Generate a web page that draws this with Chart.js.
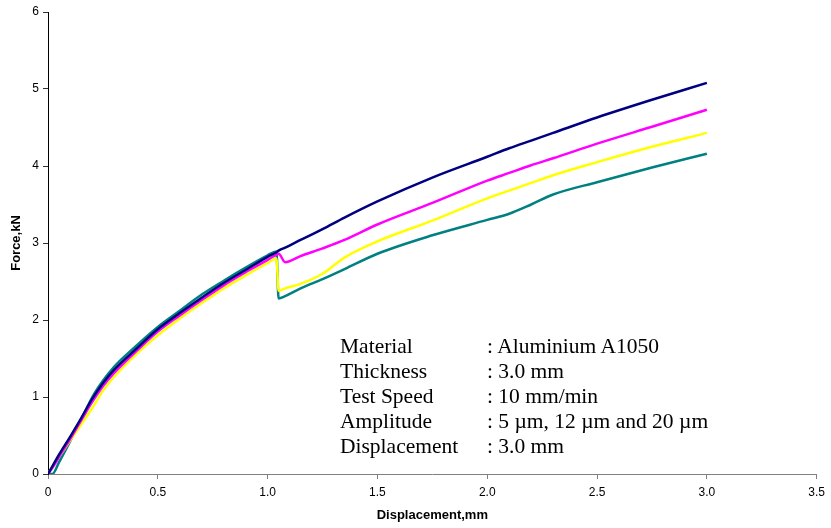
<!DOCTYPE html>
<html>
<head>
<meta charset="utf-8">
<title>Force vs displacement</title>
<script src="https://cdn.jsdelivr.net/npm/chart.js@4/dist/chart.umd.min.js"></script>
<style>
  html, body { margin: 0; padding: 0; background: #fff; }
  #wrap { position: relative; width: 831px; height: 528px; }
  #note {
    position: absolute; left: 340px; top: 334px;
    font-family: "Liberation Serif", "Times New Roman", serif;
    font-size: 21.5px; line-height: 25px; color: #000;
  }
  #note .row { white-space: nowrap; }
  #note .k { display: inline-block; width: 147px; }
</style>
</head>
<body>
<div id="wrap">
  <canvas id="forceChart" width="831" height="528"></canvas>
  <div id="note">
    <div class="row"><span class="k">Material</span>: Aluminium A1050</div>
    <div class="row"><span class="k">Thickness</span>: 3.0 mm</div>
    <div class="row"><span class="k">Test Speed</span>: 10 mm/min</div>
    <div class="row"><span class="k">Amplitude</span>: 5 µm, 12 µm and 20 µm</div>
    <div class="row"><span class="k">Displacement</span>: 3.0 mm</div>
  </div>
</div>
<script>
// displacement (mm), shared by all curves
const displacement = [0, 0.02, 0.05, 0.1, 0.15, 0.2, 0.25, 0.3, 0.4, 0.5, 0.6, 0.7, 0.8, 0.9, 1.0,
  1.04, 1.05, 1.08, 1.15, 1.25, 1.35, 1.5, 1.75, 2.0, 2.1, 2.2, 2.3, 2.5, 2.75, 3.0];

// force (kN) per curve
const forceNavy    = [0, 0.10, 0.25, 0.48, 0.72, 0.97, 1.18, 1.35, 1.62, 1.88, 2.09, 2.29, 2.48, 2.65, 2.82,
  2.88, 2.90, 2.94, 3.04, 3.18, 3.33, 3.54, 3.85, 4.12, 4.23, 4.33, 4.43, 4.63, 4.86, 5.08];
const forceMagenta = [0, 0.08, 0.22, 0.45, 0.69, 0.93, 1.14, 1.31, 1.59, 1.85, 2.06, 2.26, 2.45, 2.62, 2.78,
  2.85, 2.86, 2.75, 2.83, 2.93, 3.04, 3.24, 3.52, 3.81, 3.91, 4.01, 4.10, 4.29, 4.51, 4.73];
const forceYellow  = [0, 0.10, 0.22, 0.43, 0.64, 0.85, 1.08, 1.26, 1.55, 1.80, 2.02, 2.22, 2.41, 2.58, 2.74,
  2.80, 2.38, 2.41, 2.47, 2.60, 2.81, 3.02, 3.29, 3.58, 3.68, 3.78, 3.88, 4.05, 4.25, 4.43];
const forceTeal    = [0, 0.00, 0.15, 0.42, 0.70, 0.99, 1.21, 1.39, 1.66, 1.91, 2.12, 2.33, 2.51, 2.68, 2.84,
  2.89, 2.28, 2.31, 2.41, 2.53, 2.66, 2.86, 3.10, 3.30, 3.38, 3.50, 3.63, 3.79, 3.98, 4.16];

const xTicks = { min: 0, max: 3.5, step: 0.5 };
const yTicks = { min: 0, max: 6, step: 1 };

function toPoints(ys) {
  return displacement.map((x, i) => ({ x, y: ys[i] }));
}

function line(ys, color) {
  return {
    data: toPoints(ys),
    borderColor: color,
    backgroundColor: color,
    borderWidth: 2.5,
    pointRadius: 0,
    showLine: true,
    cubicInterpolationMode: 'monotone',
    fill: false
  };
}

const tickFont = { family: 'Liberation Sans, Arial, sans-serif', size: 12 };
const titleFont = { family: 'Liberation Sans, Arial, sans-serif', size: 13, weight: 'bold' };

new Chart(document.getElementById('forceChart'), {
  type: 'scatter',
  data: {
    datasets: [
      line(forceNavy, '#000080'),
      line(forceMagenta, '#ff00ff'),
      line(forceYellow, '#ffff00'),
      line(forceTeal, '#008080')
    ]
  },
  options: {
    responsive: false,
    animation: false,
    devicePixelRatio: 1,
    layout: { padding: { top: 12, right: 11, left: 0, bottom: 0 } },
    plugins: { legend: { display: false }, tooltip: { enabled: false } },
    scales: {
      x: {
        type: 'linear',
        min: xTicks.min, max: xTicks.max,
        ticks: { stepSize: xTicks.step, color: '#000', font: tickFont, padding: 6, maxRotation: 0 },
        grid: { drawOnChartArea: false, drawTicks: true, tickLength: 5, color: '#808080' },
        border: { display: true, color: '#808080', width: 1 },
        title: { display: true, text: 'Displacement,mm', color: '#000', font: titleFont, padding: { top: 0, bottom: 5 } },
        afterFit: (s) => { s.height = 54; }
      },
      y: {
        type: 'linear',
        min: yTicks.min, max: yTicks.max,
        ticks: { stepSize: yTicks.step, color: '#000', font: tickFont, padding: 4 },
        grid: { drawOnChartArea: false, drawTicks: true, tickLength: 5, color: '#333' },
        border: { display: true, color: '#000', width: 1 },
        title: { display: true, text: 'Force,kN', color: '#000', font: titleFont, padding: { top: 9, bottom: 0 } },
        afterFit: (s) => { s.width = 48; }
      }
    }
  }
});
</script>
</body>
</html>
